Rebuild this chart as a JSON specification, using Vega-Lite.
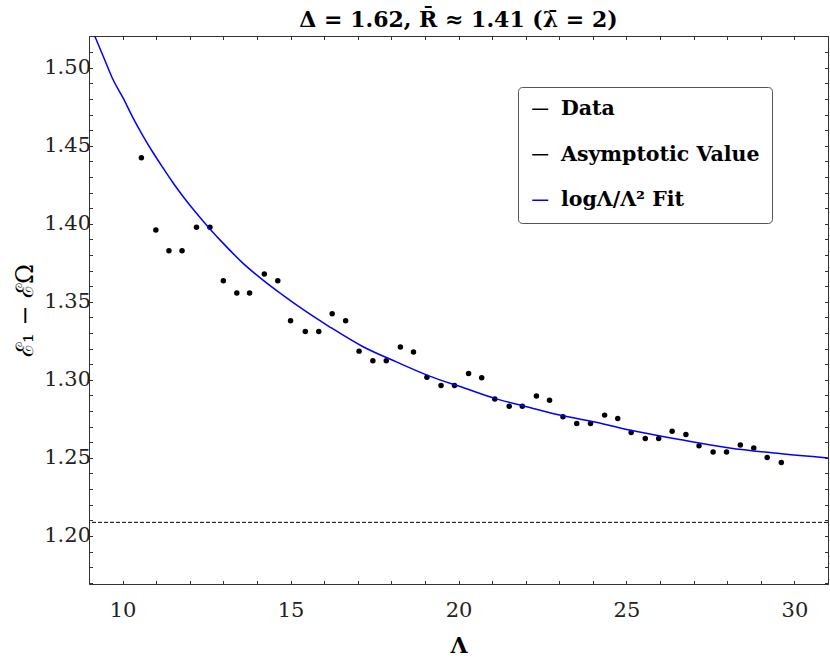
{
  "$schema": "https://vega.github.io/schema/vega-lite/v6.json",
  "width": 739,
  "height": 548,
  "autosize": {"type": "none"},
  "padding": {"left": 89, "top": 36, "right": 2, "bottom": 82},
  "background": "white",
  "title": {
    "text": "Δ = 1.62, R̄ ≈ 1.41 (λ̄ = 2)",
    "font": "DejaVu Serif",
    "fontWeight": "bold",
    "fontSize": 22,
    "color": "black",
    "anchor": "middle",
    "frame": "group",
    "offset": -7
  },
  "datasets": {
    "pts": [
      {"L": 10.56, "E": 1.4423, "series": "Data"},
      {"L": 10.99, "E": 1.3960, "series": "Data"},
      {"L": 11.38, "E": 1.3827, "series": "Data"},
      {"L": 11.77, "E": 1.3827, "series": "Data"},
      {"L": 12.2, "E": 1.3977, "series": "Data"},
      {"L": 12.6, "E": 1.3977, "series": "Data"},
      {"L": 13.0, "E": 1.3635, "series": "Data"},
      {"L": 13.4, "E": 1.3556, "series": "Data"},
      {"L": 13.78, "E": 1.3556, "series": "Data"},
      {"L": 14.22, "E": 1.3678, "series": "Data"},
      {"L": 14.62, "E": 1.3635, "series": "Data"},
      {"L": 15.0, "E": 1.3378, "series": "Data"},
      {"L": 15.44, "E": 1.3310, "series": "Data"},
      {"L": 15.84, "E": 1.3310, "series": "Data"},
      {"L": 16.24, "E": 1.3423, "series": "Data"},
      {"L": 16.64, "E": 1.3378, "series": "Data"},
      {"L": 17.04, "E": 1.3184, "series": "Data"},
      {"L": 17.45, "E": 1.3122, "series": "Data"},
      {"L": 17.85, "E": 1.3122, "series": "Data"},
      {"L": 18.27, "E": 1.3210, "series": "Data"},
      {"L": 18.66, "E": 1.3178, "series": "Data"},
      {"L": 19.06, "E": 1.3017, "series": "Data"},
      {"L": 19.48, "E": 1.2964, "series": "Data"},
      {"L": 19.88, "E": 1.2964, "series": "Data"},
      {"L": 20.3, "E": 1.3041, "series": "Data"},
      {"L": 20.69, "E": 1.3013, "series": "Data"},
      {"L": 21.08, "E": 1.2878, "series": "Data"},
      {"L": 21.51, "E": 1.2831, "series": "Data"},
      {"L": 21.9, "E": 1.2831, "series": "Data"},
      {"L": 22.32, "E": 1.2896, "series": "Data"},
      {"L": 22.71, "E": 1.2870, "series": "Data"},
      {"L": 23.11, "E": 1.2763, "series": "Data"},
      {"L": 23.52, "E": 1.2721, "series": "Data"},
      {"L": 23.93, "E": 1.2721, "series": "Data"},
      {"L": 24.35, "E": 1.2774, "series": "Data"},
      {"L": 24.74, "E": 1.2753, "series": "Data"},
      {"L": 25.14, "E": 1.2663, "series": "Data"},
      {"L": 25.56, "E": 1.2624, "series": "Data"},
      {"L": 25.96, "E": 1.2624, "series": "Data"},
      {"L": 26.36, "E": 1.2671, "series": "Data"},
      {"L": 26.77, "E": 1.2650, "series": "Data"},
      {"L": 27.16, "E": 1.2577, "series": "Data"},
      {"L": 27.58, "E": 1.2538, "series": "Data"},
      {"L": 27.98, "E": 1.2538, "series": "Data"},
      {"L": 28.39, "E": 1.2583, "series": "Data"},
      {"L": 28.79, "E": 1.2564, "series": "Data"},
      {"L": 29.19, "E": 1.2503, "series": "Data"},
      {"L": 29.61, "E": 1.2471, "series": "Data"}
    ],
    "fit": [
      {"L": 9.17, "E": 1.5203, "series": "logΛ/Λ² Fit"},
      {"L": 9.42, "E": 1.5075, "series": "logΛ/Λ² Fit"},
      {"L": 9.71, "E": 1.4926, "series": "logΛ/Λ² Fit"},
      {"L": 10.01, "E": 1.4808, "series": "logΛ/Λ² Fit"},
      {"L": 10.31, "E": 1.4679, "series": "logΛ/Λ² Fit"},
      {"L": 10.61, "E": 1.4562, "series": "logΛ/Λ² Fit"},
      {"L": 10.91, "E": 1.4455, "series": "logΛ/Λ² Fit"},
      {"L": 11.2, "E": 1.4359, "series": "logΛ/Λ² Fit"},
      {"L": 11.5, "E": 1.4263, "series": "logΛ/Λ² Fit"},
      {"L": 11.8, "E": 1.4175, "series": "logΛ/Λ² Fit"},
      {"L": 12.2, "E": 1.4067, "series": "logΛ/Λ² Fit"},
      {"L": 12.6, "E": 1.3967, "series": "logΛ/Λ² Fit"},
      {"L": 12.99, "E": 1.3876, "series": "logΛ/Λ² Fit"},
      {"L": 13.58, "E": 1.3748, "series": "logΛ/Λ² Fit"},
      {"L": 14.18, "E": 1.3639, "series": "logΛ/Λ² Fit"},
      {"L": 14.77, "E": 1.3543, "series": "logΛ/Λ² Fit"},
      {"L": 15.37, "E": 1.3451, "series": "logΛ/Λ² Fit"},
      {"L": 16.16, "E": 1.3340, "series": "logΛ/Λ² Fit"},
      {"L": 17.16, "E": 1.3212, "series": "logΛ/Λ² Fit"},
      {"L": 18.15, "E": 1.3115, "series": "logΛ/Λ² Fit"},
      {"L": 19.14, "E": 1.3024, "series": "logΛ/Λ² Fit"},
      {"L": 20.13, "E": 1.2951, "series": "logΛ/Λ² Fit"},
      {"L": 21.13, "E": 1.2878, "series": "logΛ/Λ² Fit"},
      {"L": 22.12, "E": 1.2823, "series": "logΛ/Λ² Fit"},
      {"L": 23.11, "E": 1.2770, "series": "logΛ/Λ² Fit"},
      {"L": 24.2, "E": 1.2724, "series": "logΛ/Λ² Fit"},
      {"L": 25.09, "E": 1.2678, "series": "logΛ/Λ² Fit"},
      {"L": 26.58, "E": 1.2618, "series": "logΛ/Λ² Fit"},
      {"L": 28.07, "E": 1.2564, "series": "logΛ/Λ² Fit"},
      {"L": 29.56, "E": 1.2528, "series": "logΛ/Λ² Fit"},
      {"L": 31.0, "E": 1.2500, "series": "logΛ/Λ² Fit"}
    ],
    "asym": [
      {"E": 1.2087, "series": "Asymptotic Value"}
    ]
  },
  "layer": [
    {
      "data": {"name": "pts"},
      "mark": {"type": "point", "filled": true, "size": 30, "opacity": 1},
      "encoding": {
        "x": {"field": "L", "type": "quantitative",
              "scale": {"domain": [9, 31], "nice": false, "zero": false},
              "axis": {"orient": "bottom", "title": "Λ",
                       "values": [9,10,11,12,13,14,15,16,17,18,19,20,21,22,23,24,25,26,27,28,29,30,31],
                       "labelExpr": "datum.value % 5 === 0 ? datum.label : ''",
                       "tickSize": -3.5, "labelPadding": 19,
                       "titleFont": "DejaVu Serif", "titleFontWeight": "bold", "titleFontSize": 22,
                       "titlePadding": 15}},
        "y": {"field": "E", "type": "quantitative",
              "scale": {"domain": [1.1692, 1.5203], "nice": false, "zero": false},
              "axis": {"orient": "left", "title": "ℰ₁ − ℰΩ",
                       "values": [1.17,1.18,1.19,1.2,1.21,1.22,1.23,1.24,1.25,1.26,1.27,1.28,1.29,1.3,1.31,1.32,1.33,1.34,1.35,1.36,1.37,1.38,1.39,1.4,1.41,1.42,1.43,1.44,1.45,1.46,1.47,1.48,1.49,1.5,1.51,1.52],
                       "labelExpr": "abs(datum.value * 20 - round(datum.value * 20)) < 0.000001 ? format(datum.value, '.2f') : ''",
                       "tickSize": -3.5, "labelPadding": 2,
                       "titleFont": "DejaVu Serif", "titleFontWeight": "normal", "titleFontSize": 24,
                       "titlePadding": 6}},
        "color": {
          "field": "series", "type": "nominal",
          "scale": {"domain": ["Data", "Asymptotic Value", "logΛ/Λ² Fit"], "range": ["black", "black", "#0000ff"]},
          "legend": {
            "orient": "none", "legendX": 429, "legendY": 51, "title": null,
            "direction": "vertical",
            "fillColor": "white", "strokeColor": "#555", "cornerRadius": 4, "padding": 12,
            "labelFont": "DejaVu Serif", "labelFontWeight": "bold", "labelFontSize": 20.5, "labelColor": "black",
            "labelLimit": 400,
            "labelOffset": 10.5, "rowPadding": 24.5,
            "symbolType": "stroke", "symbolSize": 256, "symbolStrokeWidth": 1.5,
            "symbolStrokeColor": "black"
          }
        }
      }
    },
    {
      "data": {"name": "fit"},
      "mark": {"type": "line", "strokeWidth": 1.5, "interpolate": "monotone", "clip": true},
      "encoding": {
        "x": {"field": "L", "type": "quantitative",
              "axis": {"orient": "top", "labels": false, "title": null,
                       "values": [9,10,11,12,13,14,15,16,17,18,19,20,21,22,23,24,25,26,27,28,29,30,31],
                       "tickSize": -3.5}},
        "y": {"field": "E", "type": "quantitative",
              "axis": {"orient": "right", "labels": false, "title": null,
                       "values": [1.17,1.18,1.19,1.2,1.21,1.22,1.23,1.24,1.25,1.26,1.27,1.28,1.29,1.3,1.31,1.32,1.33,1.34,1.35,1.36,1.37,1.38,1.39,1.4,1.41,1.42,1.43,1.44,1.45,1.46,1.47,1.48,1.49,1.5,1.51,1.52],
                       "tickSize": -3.5}},
        "color": {"field": "series", "type": "nominal"}
      }
    },
    {
      "data": {"name": "asym"},
      "mark": {"type": "rule", "strokeDash": [4, 2], "strokeWidth": 1},
      "encoding": {
        "y": {"field": "E", "type": "quantitative", "axis": null},
        "color": {"field": "series", "type": "nominal"}
      }
    }
  ],
  "resolve": {"axis": {"x": "independent", "y": "independent"}},
  "config": {
    "view": {"stroke": "#333", "strokeWidth": 1},
    "axis": {
      "domain": false, "grid": false,
      "tickColor": "#333", "tickWidth": 1,
      "labelFont": "DejaVu Serif", "labelFontSize": 21, "labelColor": "#222",
      "titleColor": "black", "labelOverlap": false, "labelFlush": false
    }
  }
}
